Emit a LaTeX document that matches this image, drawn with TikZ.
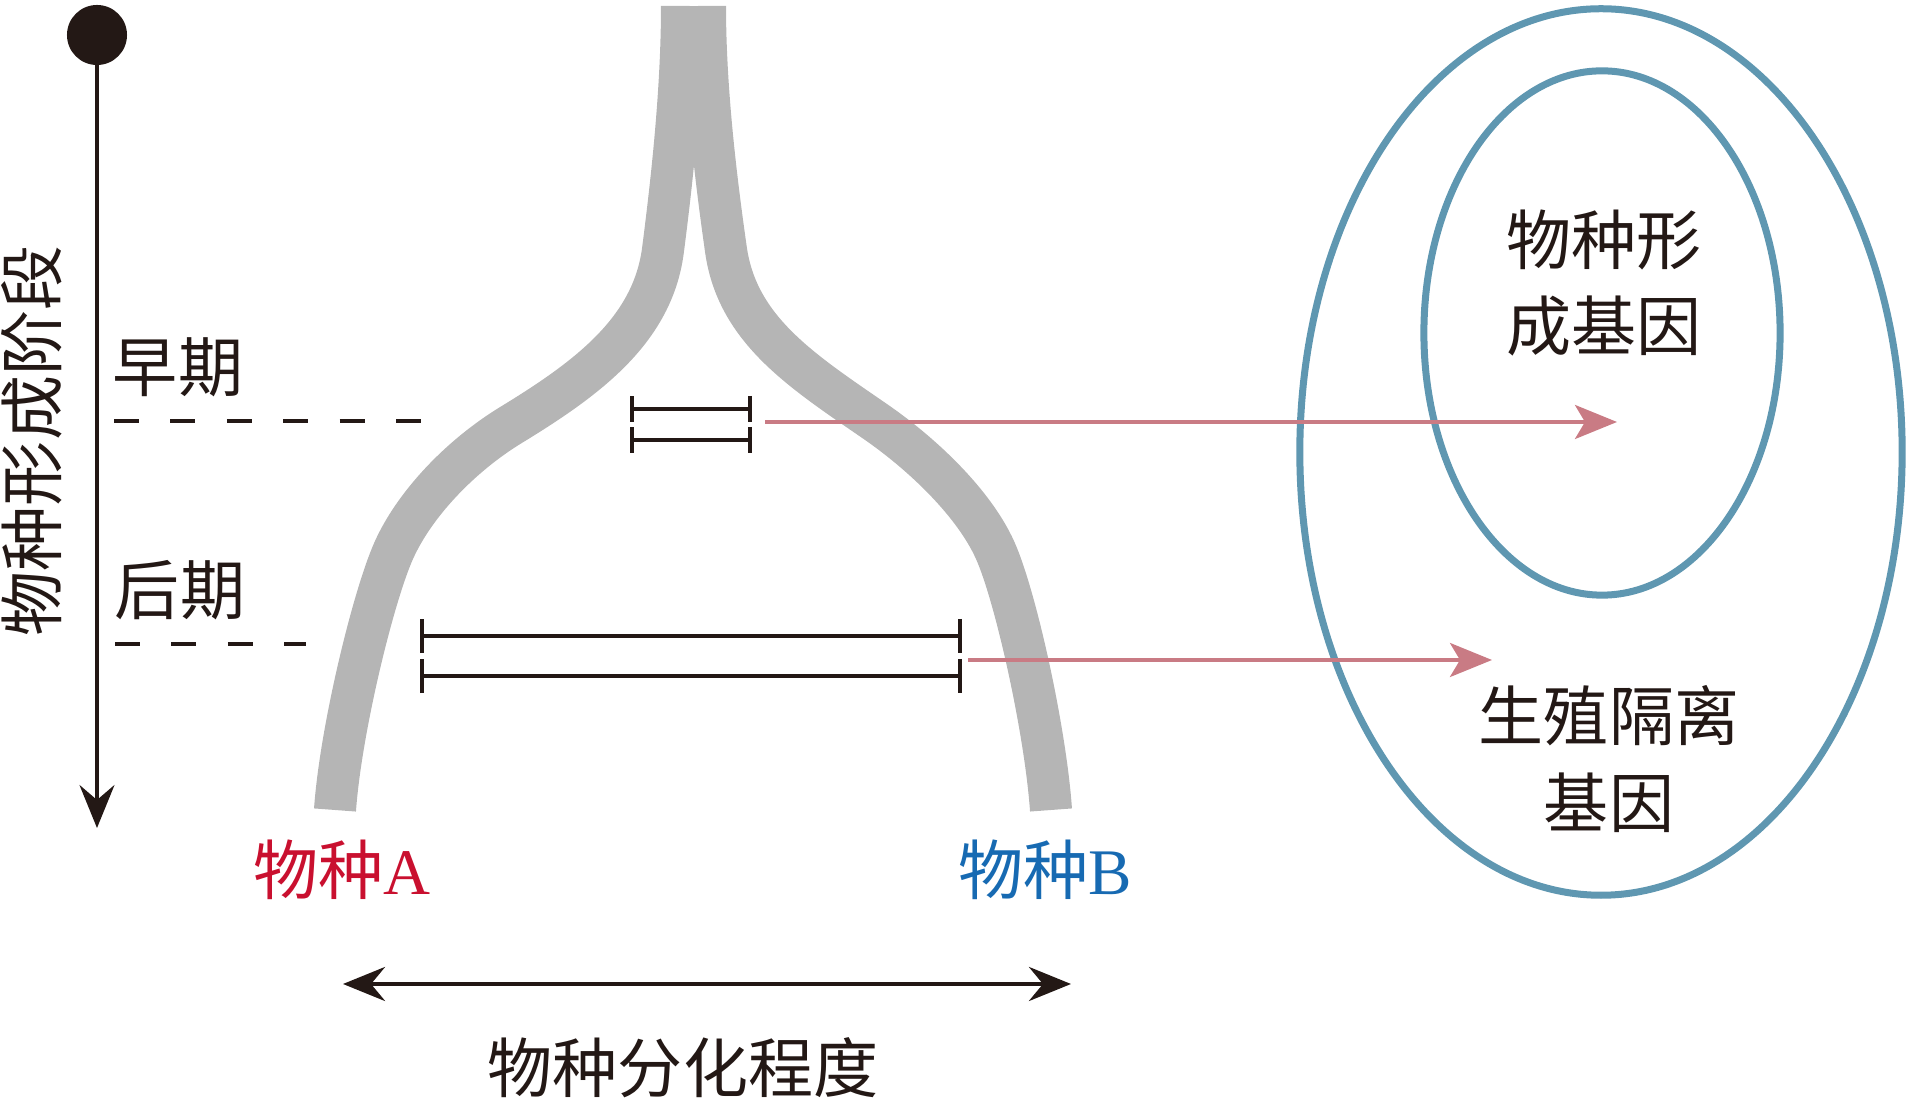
\documentclass[tikz,border=0pt]{standalone}
\usepackage{fontspec}
\setmainfont{Liberation Serif}
\newfontfamily\cjk{Noto Sans CJK SC}
\usepackage{tikz}
\usetikzlibrary{arrows.meta}
\definecolor{ink}{HTML}{231815}
\definecolor{tubegray}{HTML}{B5B5B5}
\definecolor{linkred}{HTML}{C97B84}
\definecolor{ringblue}{HTML}{5F97B1}
\definecolor{speciesred}{HTML}{C9102F}
\definecolor{speciesblue}{HTML}{176AB2}
\tikzstyle{tube} = [line width=0.42cm, tubegray]
\tikzstyle{axis} = [line width=0.03cm, ink, -{Stealth[length=0.43cm,width=0.35cm,inset=0.15cm]}]
\tikzstyle{degree} = [line width=0.045cm, ink, {Stealth[length=0.42cm,width=0.34cm,inset=0.14cm]}-{Stealth[length=0.42cm,width=0.34cm,inset=0.14cm]}]
\tikzstyle{link} = [line width=0.035cm, linkred, -{Stealth[length=0.42cm,width=0.34cm,inset=0.1cm]}]
\tikzstyle{guide} = [line width=0.04cm, ink, dash pattern=on 0.25cm off 0.314cm]
\tikzstyle{bar} = [line width=0.04cm, ink]
\tikzstyle{ring} = [line width=0.07cm, ringblue]
\tikzstyle{txt} = [font=\cjk\fontsize{18.5}{24.5}\selectfont, text=ink, inner sep=0pt, align=center]

\begin{document}
\begin{tikzpicture}[x=0.01cm, y=-0.01cm]
\useasboundingbox (0,0) rectangle (1908,1101);
% the two branches
\draw[tube] (682,6) .. controls (682,90) and (672,180) .. (663,250)
  .. controls (652.7,330) and (587.9,378.1) .. (511,425)
  .. controls (459.8,456.3) and (414.5,504.5) .. (394,550)
  .. controls (373.5,595.5) and (340.6,730) .. (335,810);
\draw[tube] (705,6) .. controls (705,90) and (716,180) .. (726,250)
  .. controls (737.4,330) and (802,371) .. (876,422)
  .. controls (925,456) and (974.5,504.5) .. (995,550)
  .. controls (1015.5,595.5) and (1045.4,730) .. (1051,810);
% time axis
\node[circle, fill=ink, minimum size=0.6cm, inner sep=0pt] (start) at (97,35) {};
\coordinate (finish) at (97,828);
\draw[axis] (start.center) -- (finish);
\node[txt, rotate=90] (stage) at (32,441) {物种形成阶段};
\node[txt] (early) at (178,367) {早期};
\node[txt] (late) at (180,590) {后期};
\coordinate (early-a) at (114,421);
\coordinate (early-b) at (421,421);
\coordinate (late-a) at (115,644);
\coordinate (late-b) at (306,644);
\draw[guide] (early-a) -- (early-b);
\draw[guide] (late-a) -- (late-b);
% gene bars
\coordinate (e1l) at (630,409);
\coordinate (e1r) at (752,409);
\coordinate (e2l) at (630,440);
\coordinate (e2r) at (752,440);
\coordinate (l1l) at (420,636);
\coordinate (l1r) at (962,636);
\coordinate (l2l) at (420,676);
\coordinate (l2r) at (962,676);
\draw[bar, {Bar[width=0.26cm]}-{Bar[width=0.26cm]}] (e1l) -- (e1r);
\draw[bar, {Bar[width=0.26cm]}-{Bar[width=0.26cm]}] (e2l) -- (e2r);
\draw[bar, {Bar[width=0.34cm]}-{Bar[width=0.34cm]}] (l1l) -- (l1r);
\draw[bar, {Bar[width=0.34cm]}-{Bar[width=0.34cm]}] (l2l) -- (l2r);
% species and divergence
\node[txt, text=speciesred] (spA) at (342,870) {物种{\rmfamily A}};
\node[txt, text=speciesblue] (spB) at (1045,870) {物种{\rmfamily B}};
\coordinate (div-l) at (343,984);
\coordinate (div-r) at (1071,984);
\draw[degree] (div-l) -- (div-r);
\node[txt] (divergence) at (683,1068) {物种分化程度};
% gene sets
\draw[ring] (1601,452) ellipse [x radius=3.01cm, y radius=4.43cm];
\draw[ring] (1602,333) ellipse [x radius=1.78cm, y radius=2.62cm];
\node[txt] (speciation) at (1604,283) {物种形\\成基因};
\node[txt] (isolation) at (1609,759) {生殖隔离\\基因};
\coordinate (early-to) at (1617,422);
\coordinate (late-to) at (1492,660);
\coordinate (early-from) at (765,422);
\coordinate (late-from) at (968,660);
\draw[link] (early-from) -- (early-to);
\draw[link] (late-from) -- (late-to);
\end{tikzpicture}
\end{document}
